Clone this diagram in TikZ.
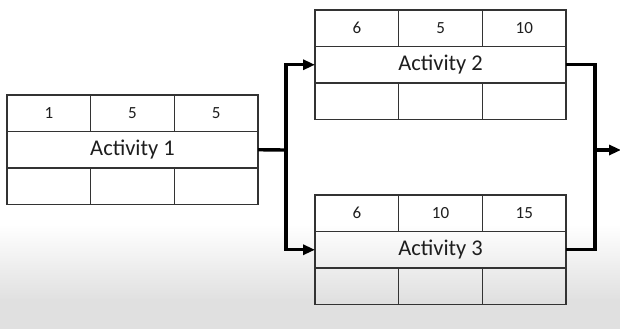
\documentclass[tikz,border=0pt]{standalone}
\usepackage{fontspec}
\setmainfont{Carlito}
\usetikzlibrary{positioning, arrows.meta, calc}
\definecolor{boxline}{HTML}{333333}
\definecolor{inkgray}{HTML}{1E1E1E}
\tikzset{
    cell/.style={
        rectangle,
        draw=boxline,
        line width=1.3pt,
        minimum width=83.7pt,
        minimum height=36.5pt,
        inner sep=0pt,
        outer sep=0pt,
        text=inkgray,
        font=\fontsize{17}{20}\selectfont
    },
    title/.style={
        cell,
        minimum width=251.1pt,
        font=\fontsize{22.5}{26}\selectfont
    },
    link/.style={
        line width=3.4pt,
        black
    },
    flow/.style={
        link,
        -{Triangle[length=12pt,width=10pt]}
    }
}
\begin{document}
\begin{tikzpicture}[x=1pt, y=-1pt, node distance=0pt]
    \useasboundingbox (0,0) rectangle (620,329);
    % grey fade at the bottom
    \fill[white] (0,0) rectangle (620,225);
    \shade[top color=white, bottom color=black!12] (0,224) rectangle (620,300);
    \fill[black!12] (0,299) rectangle (620,329);

    % Activity 1
    \node[cell, anchor=north west] (a1-es) at (7,95) {1};
    \node[cell, right=of a1-es] (a1-d) {5};
    \node[cell, right=of a1-d] (a1-ef) {5};
    \node[title, below=of a1-d] (a1) {Activity 1};
    \node[cell, anchor=north west] (a1-ls) at (a1.south west) {};
    \node[cell, right=of a1-ls] (a1-fl) {};
    \node[cell, right=of a1-fl] (a1-lf) {};

    % Activity 2
    \node[cell, anchor=north west] (a2-es) at (315,10) {6};
    \node[cell, right=of a2-es] (a2-d) {5};
    \node[cell, right=of a2-d] (a2-ef) {10};
    \node[title, below=of a2-d] (a2) {Activity 2};
    \node[cell, anchor=north west] (a2-ls) at (a2.south west) {};
    \node[cell, right=of a2-ls] (a2-fl) {};
    \node[cell, right=of a2-fl] (a2-lf) {};

    % Activity 3
    \node[cell, anchor=north west] (a3-es) at (315,195) {6};
    \node[cell, right=of a3-es] (a3-d) {10};
    \node[cell, right=of a3-d] (a3-ef) {15};
    \node[title, below=of a3-d] (a3) {Activity 3};
    \node[cell, anchor=north west] (a3-ls) at (a3.south west) {};
    \node[cell, right=of a3-ls] (a3-fl) {};
    \node[cell, right=of a3-fl] (a3-lf) {};

    % connectors
    \coordinate (split) at (286,150);
    \coordinate (merge) at (595,150);
    \coordinate (finish) at (621,150);
    \draw[link] (a1.east) -- (split);
    \draw[flow] (split) |- (a2.west);
    \draw[flow] (split) |- (a3.west);
    \draw[link] (a2.east) -| (merge);
    \draw[link] (a3.east) -| (merge);
    \draw[flow] (merge) -- (finish);
\end{tikzpicture}
\end{document}
